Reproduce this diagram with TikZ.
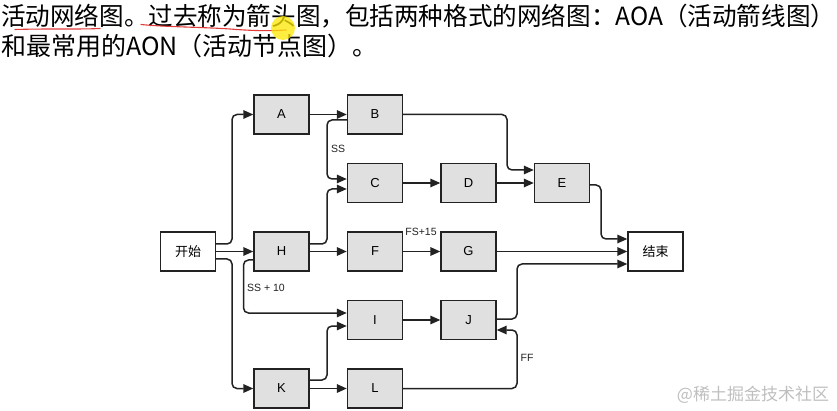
\documentclass[tikz,border=0pt]{standalone}
\usepackage{fontspec}
\usepackage{graphicx}
\setmainfont{Liberation Sans}
\newfontfamily\cjk{Noto Sans CJK SC}
\usetikzlibrary{arrows.meta,calc}
\definecolor{boxfill}{HTML}{E0E0E0}
\definecolor{edge}{HTML}{222222}
\definecolor{annot}{HTML}{E23B3B}
\tikzset{
  box/.style={draw=edge, line width=1.4pt, fill=boxfill, minimum width=55pt, minimum height=39pt, inner sep=0pt, font=\fontsize{13}{15}\selectfont},
  term/.style={box, fill=white, font=\cjk\fontsize{13}{15}\selectfont},
  conn/.style={draw=edge, line width=1.5pt, rounded corners=5pt, -{Triangle[length=10pt,width=8.5pt]}},
  lab/.style={font=\fontsize{10.5}{12}\selectfont, text=edge, inner sep=0pt}
}
\begin{document}
\begin{tikzpicture}[x=1pt,y=-1pt]
\fill[white] (0,0) rectangle (837,411);
\useasboundingbox (0,0) rectangle (837,411);
% title
\node[anchor=base west, inner sep=0pt, font=\cjk\fontsize{25}{30}\selectfont] (t1) at (1,25.5) {\resizebox{834pt}{\height}{活动网络图。过去称为箭头图，包括两种格式的网络图：AOA（活动箭线图）}};
\node[anchor=base west, inner sep=0pt, font=\cjk\fontsize{25}{30}\selectfont] (t2) at (1,55.5) {和最常用的AON（活动节点图）。};
% annotations
\draw[annot, line width=1.1pt, line cap=round] (15,29.5) .. controls (50,28.5) and (80,29.5) .. (100,28.5);
\draw[annot, line width=1.1pt, line cap=round] (141,24.5) .. controls (165,27) and (200,27) .. (230,29) .. controls (255,31) and (270,31) .. (286,30);
\fill[yellow!90!orange, opacity=0.75] (283,28) circle (12pt);
% nodes
\node[term] (start) at (188,251.5) {开始};
\node[box] (A) at (281.5,114.5) {A};
\node[box] (B) at (375,114.5) {B};
\node[box] (C) at (375,183) {C};
\node[box] (D) at (468.5,183) {D};
\node[box] (E) at (562,183) {E};
\node[box] (H) at (281.5,251.5) {H};
\node[box] (F) at (375,251.5) {F};
\node[box] (G) at (468.5,251.5) {G};
\node[term] (end) at (655.5,251.5) {结束};
\node[box] (I) at (375,320) {I};
\node[box] (J) at (468.5,320) {J};
\node[box] (K) at (281.5,388.5) {K};
\node[box] (L) at (375,388.5) {L};
% helper coordinates
\coordinate (x1) at (232,0);
\coordinate (x2) at (327,0);
\coordinate (x3) at (507,0);
\coordinate (x4) at (601,0);
\coordinate (x5) at (517,0);
\coordinate (x6) at (243.5,0);
\coordinate (sA) at ([yshift=7.5pt]start.east);
\coordinate (sK) at ([yshift=-7.5pt]start.east);
\coordinate (bOut) at ([yshift=-5.5pt]B.west);
\coordinate (cIn1) at ([yshift=4pt]C.west);
\coordinate (cIn2) at ([yshift=-6pt]C.west);
\coordinate (hUp) at ([yshift=7.5pt]H.east);
\coordinate (hLeft) at ([yshift=-8.5pt]H.west);
\coordinate (eIn1) at ([yshift=13pt]E.west);
\coordinate (eOut) at ([yshift=-2pt]E.east);
\coordinate (endIn1) at ([yshift=12.5pt]end.west);
\coordinate (endIn3) at ([yshift=-12.5pt]end.west);
\coordinate (jOut) at ([yshift=1pt]J.east);
\coordinate (jIn) at ([yshift=-10pt]J.east);
\coordinate (iIn1) at ([yshift=7pt]I.west);
\coordinate (iIn2) at ([yshift=-6pt]I.west);
\coordinate (kUp) at ([yshift=8.5pt]K.east);
% connectors
\draw[conn] (sA) -| (x1 |- A.west) -- (A.west);
\draw[conn] (start) -- (H);
\draw[conn] (sK) -| (x1 |- K.west) -- (K.west);
\draw[conn] (A) -- (B);
\draw[conn] (bOut) -| (x2 |- cIn1) -- (cIn1);
\draw[conn] (hUp) -| (x2 |- cIn2) -- (cIn2);
\draw[conn] (H) -- (F);
\draw[conn] (C) -- (D);
\draw[conn] (D) -- (E);
\draw[conn] (B.east) -| (x3 |- eIn1) -- (eIn1);
\draw[conn] (eOut) -| (x4 |- endIn1) -- (endIn1);
\draw[conn] (F) -- (G);
\draw[conn] (G) -- (end);
\draw[conn] (jOut) -| (x5 |- endIn3) -- (endIn3);
\draw[conn] (hLeft) -| (x6 |- iIn1) -- (iIn1);
\draw[conn] (kUp) -| (x2 |- iIn2) -- (iIn2);
\draw[conn] (K) -- (L);
\draw[conn] (I) -- (J);
\draw[conn] (L.east) -| (x5 |- jIn) -- (jIn);
% labels
\node[lab] (lss) at (338,149) {SS};
\node[lab] (lfs) at (421,232) {FS+15};
\node[lab] (lss10) at (266,288) {SS + 10};
\node[lab] (lff) at (527,358) {FF};
% watermark
\node[font=\cjk\fontsize{17}{20}\selectfont, text=gray!50, inner sep=0pt] (wm) at (753,395) {@稀土掘金技术社区};
\end{tikzpicture}
\end{document}
